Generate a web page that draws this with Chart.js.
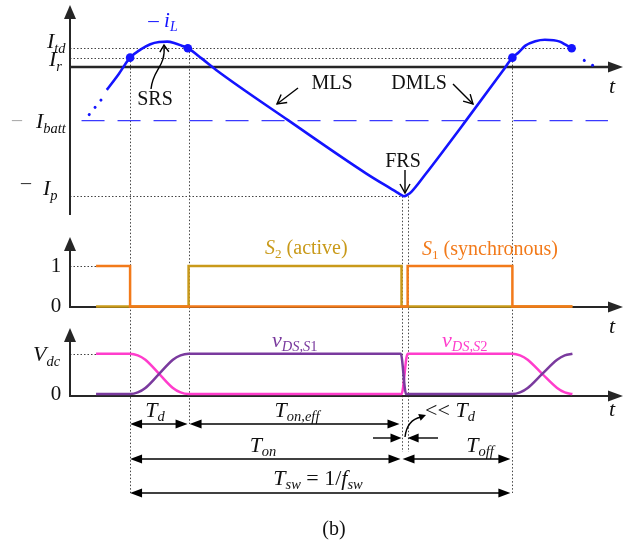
<!DOCTYPE html>
<html><head><meta charset="utf-8">
<script src="https://cdn.jsdelivr.net/npm/chart.js@4/dist/chart.umd.min.js"></script>
<style>html,body{margin:0;padding:0;background:#fff}canvas{display:block}</style>
</head><body>
<canvas id="c" width="641" height="547"></canvas>
<script>
// ---------------- data (time in units where Tsw = 10) ----------------
const iLTime  = [-0.61,-0.30,0,0.27,0.53,0.76,0.97,1.17,1.35,1.51,1.87,2.26,4.14,6.18,6.98,7.08,7.17,7.26,7.37,7.72,8.79,9.74,10.0,10.16,10.34,10.6,10.85,11.08,11.24,11.39,11.55];
const iLValue = [-1.56,-0.31,1.0,1.64,2.07,2.24,2.27,2.15,1.95,1.75,0.94,0,-3.98,-8.20,-9.69,-9.88,-10,-9.88,-9.61,-8.28,-3.98,-0.08,1.0,1.41,1.95,2.30,2.42,2.38,2.27,2.03,1.75];
const iLLeadTime = [-1.07,-0.735], iLLeadValue = [-3.52,-2.27];
const iLTrailTime = [11.88,12.17], iLTrailValue = [0.78,0.27];
const markerTime = [0,1.51,10,11.55], markerValue = [1.0,1.75,1.0,1.75];
const iLevels = [1.75,1.0,-4,-10];           // I_td, I_r, -I_batt, -I_p
const iLevelSubs = ['td','r','batt','p'];
const battLineTime = [-1.27,12.5];

const s1Time = [-0.89,0,7.26,10,11.57],  s1Value = [1,0,1,0,0];
const s2Time = [-0.89,1.53,7.1,11.57],   s2Value = [0,1,0,0];
const vS1Time  = [-0.89,0,0.2,0.4,0.76,1.12,1.32,1.53,7.08,7.22,10,10.2,10.4,10.78,11.17,11.37,11.57];
const vS1Value = [0,0,0.04,0.15,0.5,0.85,0.96,1,1,0,0,0.04,0.15,0.5,0.85,0.96,1];
const vS2Time  = [-0.89,0,0.2,0.4,0.76,1.12,1.32,1.53,7.1,7.26,10,10.2,10.4,10.78,11.17,11.37,11.57];
const vS2Value = [1,1,0.96,0.85,0.5,0.15,0.04,0,0,1,1,0.96,0.85,0.5,0.15,0.04,0];
const switchTicks = [0,1]; const switchTickLabels = ['0','1'];
// interval markers: start, end of Td, end of Ton, S1 on, end of Tsw
const tStart = 0, tTdEnd = 1.53, tOnEnd = 7.1, tS1On = 7.26, tSwEnd = 10;

// ---------------- layout ----------------
const W = 641, H = 547;
const X0 = 127.5, PXT = 38.75;                 // px of t=0, px per time unit
const panI = {zero:67, k:12.8}, panS = {zero:307, k:41}, panV = {zero:396, k:41};
const AX = 70;                                  // vertical axes x
const fam = '"Liberation Serif","Times New Roman",serif';
const C = {blue:'#1414ff', batt:'#3a3aff', orange:'#f27a1a', gold:'#c99a1a', pink:'#ff3dcc', purple:'#7a3a9e', ink:'#111', dot:'#444', axis:'#262626'};

const xy = (ts, vs) => ts.map((t,i)=>({x:t, y:vs[i]}));
const yRange = p => ({min:-(H-p.zero)/p.k, max:p.zero/p.k});

function mtext(ctx, parts, x, y, o) {
  o = o || {};
  const size = o.size || 20, align = o.align || 'center';
  const segs = parts.map(p => {
    const it = p[1].includes('i'), sub = p[1].includes('s');
    const sz = sub ? size*0.66 : size;
    const f = (it ? 'italic ' : '') + sz.toFixed(1) + 'px ' + fam;
    ctx.font = f;
    return {t:p[0], f, w:ctx.measureText(p[0]).width, dy: sub ? size*0.3 : 0};
  });
  const total = segs.reduce((a,s)=>a+s.w,0);
  let cx = align==='center' ? x-total/2 : (align==='right' ? x-total : x);
  ctx.fillStyle = o.color || C.ink; ctx.textBaseline = 'middle'; ctx.textAlign = 'left';
  for (const s of segs) { ctx.font = s.f; ctx.fillText(s.t, cx, y+s.dy); cx += s.w; }
}
function head(ctx,x,y,ang,len,hw){
  const c=Math.cos(ang), s=Math.sin(ang);
  ctx.beginPath(); ctx.moveTo(x,y);
  ctx.lineTo(x-len*c+hw*s, y-len*s-hw*c);
  ctx.lineTo(x-len*c-hw*s, y-len*s+hw*c);
  ctx.closePath(); ctx.fill();
}
function vhead(ctx,x,y,ang,len,hw){
  const c=Math.cos(ang), s=Math.sin(ang);
  ctx.beginPath();
  ctx.moveTo(x-len*c+hw*s, y-len*s-hw*c); ctx.lineTo(x,y);
  ctx.lineTo(x-len*c-hw*s, y-len*s+hw*c); ctx.stroke();
}
function dim(ctx,x1,x2,y){
  ctx.lineWidth=1.4; ctx.strokeStyle='#000'; ctx.fillStyle='#000';
  ctx.beginPath(); ctx.moveTo(x1+6,y); ctx.lineTo(x2-6,y); ctx.stroke();
  head(ctx,x1,y,Math.PI,12,4.5); head(ctx,x2,y,0,12,4.5);
}

const deco = {
  id:'deco',
  beforeDatasetsDraw(chart){
    const ctx = chart.ctx, sx = chart.scales.x, sI = chart.scales.yI, sS = chart.scales.yS, sV = chart.scales.yV;
    const X = t => sx.getPixelForValue(t);
    const r = v => Math.round(v)+0.5;
    ctx.save();
    // dotted guides
    ctx.strokeStyle = C.dot; ctx.lineWidth = 1; ctx.setLineDash([1.5,2]);
    const hl = (x1,x2,y)=>{ctx.beginPath();ctx.moveTo(x1,r(y));ctx.lineTo(x2,r(y));ctx.stroke();};
    const vl = (x,y1,y2)=>{ctx.beginPath();ctx.moveTo(r(x),y1);ctx.lineTo(r(x),y2);ctx.stroke();};
    hl(AX, X(markerTime[3]), sI.getPixelForValue(iLevels[0]));
    hl(AX, X(markerTime[2]), sI.getPixelForValue(iLevels[1]));
    hl(AX, X(7.17), sI.getPixelForValue(iLevels[3]));
    hl(AX, X(s1Time[0]), sS.getPixelForValue(1));
    hl(AX, X(vS2Time[0]), sV.getPixelForValue(1));
    vl(X(tStart), sI.getPixelForValue(iLevels[1]), 493);
    vl(X(tTdEnd), sI.getPixelForValue(iLevels[0]), 424);
    vl(X(tOnEnd), sI.getPixelForValue(iLevels[3]), 452);
    vl(X(tS1On), sI.getPixelForValue(iLevels[3]), 452);
    vl(X(tSwEnd), sI.getPixelForValue(iLevels[1]), 493);
    ctx.setLineDash([]);
    // axes
    ctx.strokeStyle = C.axis; ctx.fillStyle = C.axis;
    const axes = [[5,215,panI.zero,2.6],[237,panS.zero,panS.zero,2],[328,panV.zero,panV.zero,2]];
    for (const [top,bot,hy,lw] of axes){
      ctx.lineWidth=2; ctx.beginPath(); ctx.moveTo(AX,bot); ctx.lineTo(AX,top+10); ctx.stroke();
      head(ctx,AX,top,-Math.PI/2,14,6);
      ctx.lineWidth=lw; ctx.beginPath(); ctx.moveTo(AX-1,hy); ctx.lineTo(612,hy); ctx.stroke();
      head(ctx,623,hy,0,15,5.5);
    }
    ctx.restore();
  },
  afterDatasetsDraw(chart){
    const ctx = chart.ctx, sx = chart.scales.x, sI = chart.scales.yI, sS = chart.scales.yS, sV = chart.scales.yV;
    const X = t => sx.getPixelForValue(t);
    ctx.save();
    // current level labels
    const yI = v => sI.getPixelForValue(v);
    mtext(ctx,[['I','i'],[iLevelSubs[0],'is']],47,yI(iLevels[0])-6,{size:22,align:'left'});
    mtext(ctx,[['I','i'],[iLevelSubs[1],'is']],49,yI(iLevels[1])+3,{size:22,align:'left'});
    mtext(ctx,[['–','']],17,yI(iLevels[2]),{size:20,color:'#aaa'});
    mtext(ctx,[['I','i'],[iLevelSubs[2],'is']],36,yI(iLevels[2])+2,{size:22,align:'left'});
    mtext(ctx,[['–','']],26,yI(iLevels[3])-12,{size:20,color:'#333'});
    mtext(ctx,[['I','i'],[iLevelSubs[3],'is']],43,yI(iLevels[3])-7,{size:22,align:'left'});
    mtext(ctx,[['– ',''],['i','i'],['L','is']],163,21,{size:21,color:C.blue});
    // annotations
    for (const [txt,x,y] of [['SRS',155,100],['MLS',332,84],['DMLS',419,84],['FRS',403,162]]) mtext(ctx,[[txt,'']],x,y,{size:20});
    ctx.strokeStyle='#000'; ctx.lineWidth=1.4;
    ctx.beginPath(); ctx.moveTo(151,89); ctx.bezierCurveTo(153,68,166,68,164,45); ctx.stroke();
    vhead(ctx,164,45,-Math.PI/2-0.05,7,4.5);
    ctx.beginPath(); ctx.moveTo(298,88); ctx.lineTo(277,104); ctx.stroke();
    vhead(ctx,277,104,Math.atan2(16,-21),9,5);
    ctx.beginPath(); ctx.moveTo(453,84); ctx.lineTo(473,104); ctx.stroke();
    vhead(ctx,473,104,Math.atan2(20,20),9,5);
    ctx.beginPath(); ctx.moveTo(405,170); ctx.lineTo(405,193); ctx.stroke();
    vhead(ctx,405,193,Math.PI/2,9,5);
    // t labels
    for (const y of [87,327,410]) mtext(ctx,[['t','i']],612,y,{size:22});
    // switch / voltage tick labels
    for (let i=0;i<switchTicks.length;i++) mtext(ctx,[[switchTickLabels[i],'']],56,sS.getPixelForValue(switchTicks[i]),{size:21});
    mtext(ctx,[['0','']],56,sV.getPixelForValue(0),{size:21});
    mtext(ctx,[['V','i'],['dc','is']],33,sV.getPixelForValue(1)+2,{size:22,align:'left'});
    mtext(ctx,[['S','i'],['2','s'],[' (active)','']],265,249,{size:20,color:C.gold,align:'left'});
    mtext(ctx,[['S','i'],['1','s'],[' (synchronous)','']],422,250,{size:20,color:C.orange,align:'left'});
    mtext(ctx,[['v','i'],['DS,S','is'],['1','s']],272,341,{size:22,color:C.purple,align:'left'});
    mtext(ctx,[['v','i'],['DS,S','is'],['2','s']],442,341,{size:22,color:C.pink,align:'left'});
    // timing dimensions
    dim(ctx,X(tStart),X(tTdEnd)-1,424);
    dim(ctx,X(tTdEnd)+1,X(tOnEnd)-2,424);
    dim(ctx,X(tStart),X(tOnEnd)-1,459);
    dim(ctx,X(tOnEnd)+1,X(tSwEnd)-2,459);
    dim(ctx,X(tStart),X(tSwEnd)-2,493);
    ctx.beginPath(); ctx.moveTo(373,438); ctx.lineTo(X(tOnEnd)-8,438); ctx.stroke(); head(ctx,X(tOnEnd),438,0,11,4.5);
    ctx.beginPath(); ctx.moveTo(438,438); ctx.lineTo(X(tS1On)+8,438); ctx.stroke(); head(ctx,X(tS1On),438,Math.PI,11,4.5);
    ctx.beginPath(); ctx.moveTo(405,437); ctx.quadraticCurveTo(407,420,421,417); ctx.stroke(); head(ctx,426,415,-0.35,7,3.5);
    mtext(ctx,[['T','i'],['d','is']],155,411,{size:22});
    mtext(ctx,[['T','i'],['on,eff','is']],297,411,{size:22});
    mtext(ctx,[['<< ',''],['T','i'],['d','is']],450,411,{size:22});
    mtext(ctx,[['T','i'],['on','is']],263,446,{size:22});
    mtext(ctx,[['T','i'],['off','is']],480,446,{size:22});
    mtext(ctx,[['T','i'],['sw','is'],[' = 1/',''],['f','i'],['sw','is']],318,479,{size:22});
    mtext(ctx,[['(b)','']],334,530,{size:20});
    ctx.restore();
  }
};

const line = (data, color, yAxisID, extra) => Object.assign({data, borderColor:color, backgroundColor:color, borderWidth:2.5, pointRadius:0, yAxisID, fill:false}, extra||{});

new Chart(document.getElementById('c'), {
  type:'line',
  data:{datasets:[
    line(xy(markerTime,markerValue), C.blue, 'yI', {showLine:false, pointRadius:4.3, pointBorderWidth:0, pointBackgroundColor:C.blue}),
    line(xy(iLTime,iLValue), C.blue, 'yI', {cubicInterpolationMode:'monotone', borderWidth:2.6}),
    line(xy(iLLeadTime,iLLeadValue), C.blue, 'yI', {borderDash:[0.1,9.2], borderCapStyle:'round', borderWidth:3}),
    line(xy(iLTrailTime,iLTrailValue), C.blue, 'yI', {borderDash:[0.1,9.5], borderCapStyle:'round', borderWidth:3}),
    line(xy(battLineTime,[iLevels[2],iLevels[2]]), C.batt, 'yI', {borderDash:[23,13], borderWidth:1.1}),
    line(xy(s1Time,s1Value), C.orange, 'yS', {stepped:true}),
    line(xy(s2Time,s2Value), C.gold, 'yS', {stepped:true}),
    line(xy(vS1Time,vS1Value), C.purple, 'yV', {cubicInterpolationMode:'monotone'}),
    line(xy(vS2Time,vS2Value), C.pink, 'yV', {cubicInterpolationMode:'monotone'})
  ]},
  options:{
    responsive:false, animation:false, devicePixelRatio:1, events:[],
    layout:{padding:0},
    plugins:{legend:{display:false}, tooltip:{enabled:false}},
    scales:{
      x:{type:'linear', display:false, min:-X0/PXT, max:(W-X0)/PXT},
      yI:Object.assign({type:'linear', display:false}, yRange(panI)),
      yS:Object.assign({type:'linear', display:false}, yRange(panS)),
      yV:Object.assign({type:'linear', display:false}, yRange(panV))
    }
  },
  plugins:[deco]
});
</script>
</body></html>
